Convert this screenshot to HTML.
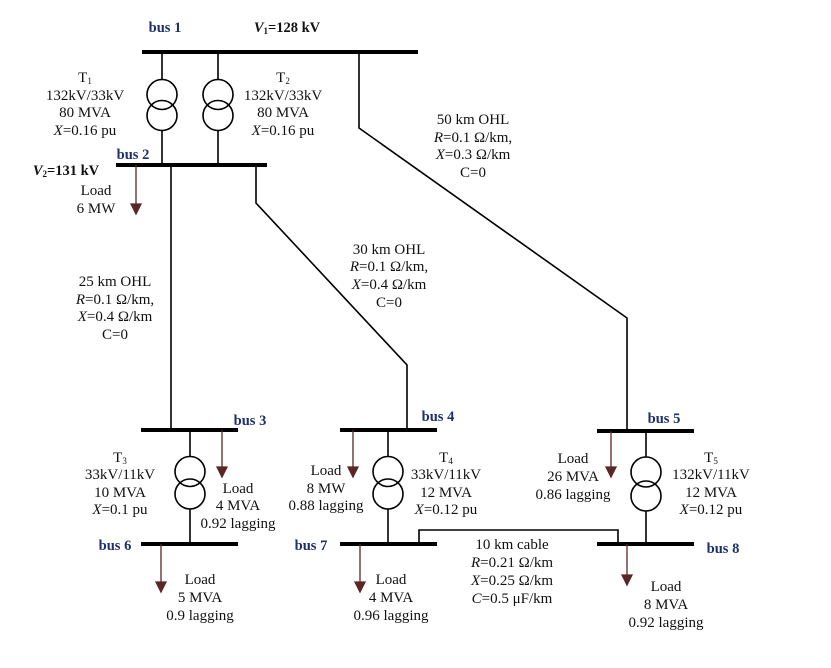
<!DOCTYPE html>
<html><head><meta charset="utf-8"><style>
html,body{margin:0;padding:0;background:#fff;}
svg{display:block;}
text{font-family:"Liberation Serif",serif;font-size:15px;fill:#111;}
.b{font-weight:bold;fill:#1f2f6b;font-size:14.5px;}
.bk{font-weight:bold;fill:#111;font-size:14.5px;}
</style></head><body>
<svg width="831" height="668" viewBox="0 0 831 668" xmlns="http://www.w3.org/2000/svg">
<g stroke="#000" stroke-width="4" stroke-linecap="butt">
<line x1="142" y1="52" x2="418" y2="52"/>
<line x1="116" y1="165" x2="267" y2="165"/>
<line x1="141" y1="430" x2="238" y2="430"/>
<line x1="340" y1="430" x2="437" y2="430"/>
<line x1="597" y1="431" x2="694" y2="431"/>
<line x1="141" y1="544" x2="238" y2="544"/>
<line x1="340" y1="544" x2="437" y2="544"/>
<line x1="597" y1="544" x2="694" y2="544"/>
</g>
<g stroke="#000" stroke-width="1.6" fill="none">
<polyline points="162,52 162,79"/><polyline points="162,131 162,165"/>
<circle cx="162" cy="94.5" r="15"/><circle cx="162" cy="115.5" r="15"/>
<polyline points="218,52 218,79"/><polyline points="218,131 218,165"/>
<circle cx="218" cy="94.5" r="15"/><circle cx="218" cy="115.5" r="15"/>
<polyline points="171,165 171,430"/>
<polyline points="256,165 256,203 407,365 407,430"/>
<polyline points="359,52 359,128 627,318 627,431"/>
<polyline points="190,430 190,457"/><polyline points="190,509 190,544"/>
<circle cx="190" cy="471.5" r="15"/><circle cx="190" cy="494" r="15"/>
<polyline points="388,430 388,457"/><polyline points="388,509 388,544"/>
<circle cx="388" cy="471.5" r="15"/><circle cx="388" cy="494" r="15"/>
<polyline points="646,431 646,457"/><polyline points="646,511 646,544"/>
<circle cx="646" cy="472" r="15"/><circle cx="646" cy="496" r="15"/>
<polyline points="419,544 419,530 618,530 618,544"/>
</g>
<g stroke="#5a2626" stroke-width="1.3" fill="#5a2626">
<line x1="136" y1="165" x2="136" y2="205"/><polygon points="131,204 141,204 136,214"/>
<line x1="222" y1="430" x2="222" y2="468"/><polygon points="217,467 227,467 222,477"/>
<line x1="353" y1="430" x2="353" y2="468"/><polygon points="348,467 358,467 353,477"/>
<line x1="611" y1="431" x2="611" y2="468"/><polygon points="606,467 616,467 611,477"/>
<line x1="161" y1="544" x2="161" y2="583"/><polygon points="156,582 166,582 161,592"/>
<line x1="360" y1="544" x2="360" y2="583"/><polygon points="355,582 365,582 360,592"/>
<line x1="627" y1="544" x2="627" y2="576"/><polygon points="622,575 632,575 627,585"/>
</g>
<g text-anchor="middle" dominant-baseline="central">
<text class="b" x="165" y="28">bus 1</text>
<text class="bk" x="287" y="28"><tspan font-style="italic">V</tspan><tspan font-size="9" dy="3">1</tspan><tspan dy="-3">=128 kV</tspan></text>
<text class="b" x="133" y="155">bus 2</text>
<text class="bk" x="66" y="171"><tspan font-style="italic">V</tspan><tspan font-size="9" dy="3">2</tspan><tspan dy="-3">=131 kV</tspan></text>
<text x="96" y="191">Load</text><text x="96" y="209">6 MW</text>
<text x="85" y="78">T<tspan font-size="9" dy="3">1</tspan></text>
<text x="85" y="96">132kV/33kV</text><text x="85" y="113">80 MVA</text><text x="85" y="131"><tspan font-style="italic">X</tspan>=0.16 pu</text>
<text x="283" y="78">T<tspan font-size="9" dy="3">2</tspan></text>
<text x="283" y="96">132kV/33kV</text><text x="283" y="113">80 MVA</text><text x="283" y="131"><tspan font-style="italic">X</tspan>=0.16 pu</text>
<text x="473" y="120">50 km OHL</text><text x="473" y="138"><tspan font-style="italic">R</tspan>=0.1 Ω/km,</text><text x="473" y="155"><tspan font-style="italic">X</tspan>=0.3 Ω/km</text><text x="473" y="173">C=0</text>
<text x="389" y="250">30 km OHL</text><text x="389" y="267"><tspan font-style="italic">R</tspan>=0.1 Ω/km,</text><text x="389" y="285"><tspan font-style="italic">X</tspan>=0.4 Ω/km</text><text x="389" y="303">C=0</text>
<text x="115" y="282">25 km OHL</text><text x="115" y="300"><tspan font-style="italic">R</tspan>=0.1 Ω/km,</text><text x="115" y="317"><tspan font-style="italic">X</tspan>=0.4 Ω/km</text><text x="115" y="335">C=0</text>
<text class="b" x="250" y="421">bus 3</text>
<text class="b" x="438" y="417">bus 4</text>
<text class="b" x="664" y="419">bus 5</text>
<text class="b" x="115" y="546">bus 6</text>
<text class="b" x="311" y="546">bus 7</text>
<text class="b" x="723" y="549">bus 8</text>
<text x="120" y="458">T<tspan font-size="9" dy="3">3</tspan></text>
<text x="120" y="475">33kV/11kV</text><text x="120" y="493">10 MVA</text><text x="120" y="510"><tspan font-style="italic">X</tspan>=0.1 pu</text>
<text x="238" y="489">Load</text><text x="238" y="506">4 MVA</text><text x="238" y="524">0.92 lagging</text>
<text x="446" y="458">T<tspan font-size="9" dy="3">4</tspan></text>
<text x="446" y="475">33kV/11kV</text><text x="446" y="493">12 MVA</text><text x="446" y="510"><tspan font-style="italic">X</tspan>=0.12 pu</text>
<text x="326" y="471">Load</text><text x="326" y="489">8 MW</text><text x="326" y="506">0.88 lagging</text>
<text x="573" y="459">Load</text><text x="573" y="477">26 MVA</text><text x="573" y="495">0.86 lagging</text>
<text x="711" y="458">T<tspan font-size="9" dy="3">5</tspan></text>
<text x="711" y="475">132kV/11kV</text><text x="711" y="493">12 MVA</text><text x="711" y="510"><tspan font-style="italic">X</tspan>=0.12 pu</text>
<text x="200" y="580">Load</text><text x="200" y="598">5 MVA</text><text x="200" y="616">0.9 lagging</text>
<text x="391" y="580">Load</text><text x="391" y="598">4 MVA</text><text x="391" y="616">0.96 lagging</text>
<text x="512" y="545">10 km cable</text><text x="512" y="563"><tspan font-style="italic">R</tspan>=0.21 Ω/km</text><text x="512" y="581"><tspan font-style="italic">X</tspan>=0.25 Ω/km</text><text x="512" y="599"><tspan font-style="italic">C</tspan>=0.5 μF/km</text>
<text x="666" y="587">Load</text><text x="666" y="605">8 MVA</text><text x="666" y="623">0.92 lagging</text>
</g>
</svg>
</body></html>
